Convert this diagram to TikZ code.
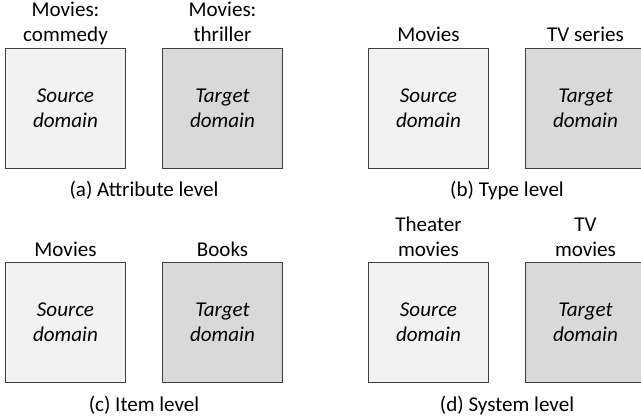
\documentclass[tikz,border=0pt]{standalone}
\usepackage{fontspec}
\setmainfont{Carlito}
\tikzset{
  dombox/.style={draw=black!75, line width=0.75pt, minimum width=90pt, minimum height=90pt,
    inner sep=0pt, align=center, font=\itshape\fontsize{15.8}{18.75}\selectfont},
  srcbox/.style={dombox, fill=black!5},
  tgtbox/.style={dombox, fill=black!15},
  lbl/.style={anchor=base, align=center, inner sep=0pt, font=\fontsize{15.8}{18.75}\selectfont},
  capt/.style={anchor=base, inner sep=0pt, font=\fontsize{15.8}{18.75}\selectfont}
}
\begin{document}
\begin{tikzpicture}[x=0.75pt,y=-0.75pt]
\useasboundingbox (0,0) rectangle (641,420);
% (a) attribute level
\node[srcbox] (srcA) at (65.5,108.5) {Source\\domain};
\node[tgtbox] (tgtA) at (222.5,108.5) {Target\\domain};
\node[lbl] (labsrcA) at (65.5,42) {Movies:\\commedy};
\node[lbl] (labtgtA) at (222.5,42) {Movies:\\thriller};
\node[capt] (captA) at (144,196) {(a) Attribute level};
% (b) type level
\node[srcbox] (srcB) at (428.5,108.5) {Source\\domain};
\node[tgtbox] (tgtB) at (585.5,108.5) {Target\\domain};
\node[lbl] (labsrcB) at (428.5,42) {Movies};
\node[lbl] (labtgtB) at (585.5,42) {TV series};
\node[capt] (captB) at (507,196) {(b) Type level};
% (c) item level
\node[srcbox] (srcC) at (65.5,322.5) {Source\\domain};
\node[tgtbox] (tgtC) at (222.5,322.5) {Target\\domain};
\node[lbl] (labsrcC) at (65.5,256) {Movies};
\node[lbl] (labtgtC) at (222.5,256) {Books};
\node[capt] (captC) at (144,411) {(c) Item level};
% (d) system level
\node[srcbox] (srcD) at (428.5,322.5) {Source\\domain};
\node[tgtbox] (tgtD) at (585.5,322.5) {Target\\domain};
\node[lbl] (labsrcD) at (428.5,256) {Theater\\movies};
\node[lbl] (labtgtD) at (585.5,256) {TV\\movies};
\node[capt] (captD) at (507,411) {(d) System level};
\end{tikzpicture}
\end{document}
